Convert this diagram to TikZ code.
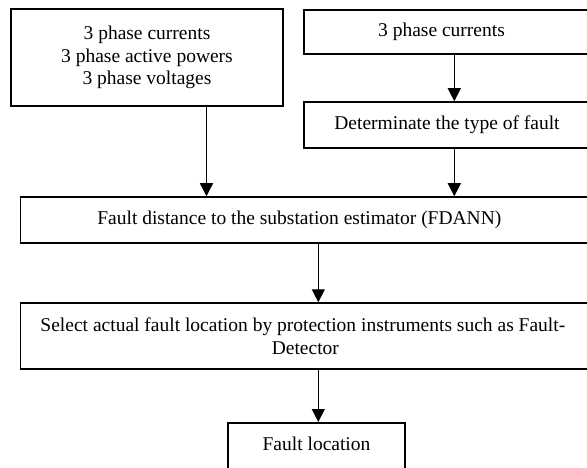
\documentclass[tikz,border=0pt]{standalone}
\usepackage{fontspec}
\setmainfont{Liberation Serif}
\usetikzlibrary{arrows.meta}
\begin{document}
\begin{tikzpicture}[x=1pt,y=-1pt,
  box/.style={draw,line width=1.5pt,inner sep=0pt,align=center,font=\fontsize{19.5}{22.5}\selectfont},
  arr/.style={line width=1.3pt,-{Triangle[width=13pt,length=13pt]}}]
\clip (0,0) rectangle (587,468);
\fill[white] (0,0) rectangle (587,468);
\node[box,minimum width=272pt,minimum height=97pt] (A) at (147,57.5)
  {3 phase currents\\3 phase active powers\\3 phase voltages};
\node[box,minimum width=286pt,minimum height=44pt] (B) at (447,32) {3 phase currents\hspace*{11pt}};
\node[box,minimum width=286pt,minimum height=46pt] (C) at (447,125) {Determinate the type of fault};
\node[box,minimum width=569.3pt,minimum height=46pt] (D) at (305.35,220)
  {Fault distance to the substation estimator (FDANN)\hspace*{12pt}};
\node[box,minimum width=569.3pt,minimum height=66pt] (E) at (305.35,336)
  {Select actual fault location by protection instruments such as Fault-\hspace*{5pt}\\Detector};
\node[box,anchor=north,minimum width=177pt,text height=28pt,text depth=30pt] (F) at (316.5,422)
  {Fault location};
\coordinate (xa) at (206.5,0);
\coordinate (xb) at (454.3,0);
\coordinate (xc) at (318.3,0);
\draw[arr] (A.south -| xa) -- (D.north -| xa);
\draw[arr] (B.south -| xb) -- (C.north -| xb);
\draw[arr] (C.south -| xb) -- (D.north -| xb);
\draw[arr] (D.south -| xc) -- (E.north -| xc);
\draw[arr] (E.south -| xc) -- (F.north -| xc);
\end{tikzpicture}
\end{document}
